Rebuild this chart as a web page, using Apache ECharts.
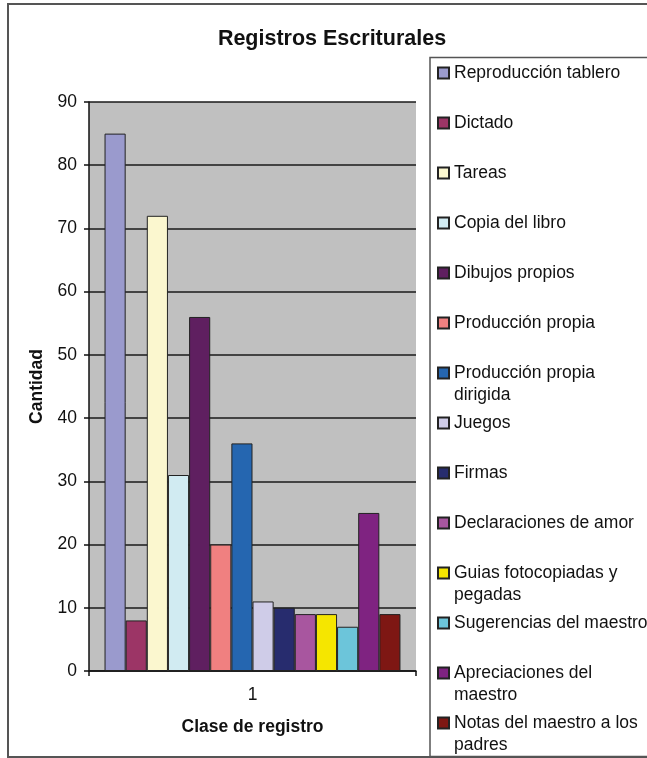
<!DOCTYPE html>
<html>
<head>
<meta charset="utf-8">
<script src="https://cdn.jsdelivr.net/npm/echarts@6/dist/echarts.min.js"></script>
<style>
html,body{margin:0;padding:0;background:#fff;}
#chart{width:647px;height:758px;}
</style>
</head>
<body>
<div id="chart"></div>
<script>
var categories = ['1'];
var seriesNames = [
  'Reproducción tablero', 'Dictado', 'Tareas', 'Copia del libro', 'Dibujos propios',
  'Producción propia', 'Producción propia dirigida', 'Juegos', 'Firmas',
  'Declaraciones de amor', 'Guias fotocopiadas y pegadas', 'Sugerencias del maestro',
  'Apreciaciones del maestro', 'Notas del maestro a los padres'
];
var legendLabels = [
  'Reproducción tablero', 'Dictado', 'Tareas', 'Copia del libro', 'Dibujos propios',
  'Producción propia', 'Producción propia\ndirigida', 'Juegos', 'Firmas',
  'Declaraciones de amor', 'Guias fotocopiadas y\npegadas', 'Sugerencias del maestro',
  'Apreciaciones del\nmaestro', 'Notas del maestro a los\npadres'
];
var seriesValues = [85, 8, 72, 31, 56, 20, 36, 11, 10, 9, 9, 7, 25, 9];
var seriesColors = [
  '#9a9acd', '#9c3566', '#fbf7cf', '#d1ebf2', '#5f1f60', '#f08080', '#2566b0',
  '#cfcce8', '#272c6e', '#a8569f', '#f5e600', '#6cc5da', '#7f2381', '#7e1713'
];
var yTicks = [0, 10, 20, 30, 40, 50, 60, 70, 80, 90];

var FONT = '"Liberation Sans", Arial, sans-serif';
var FS = 17.5;
var chart = echarts.init(document.getElementById('chart'), null, {renderer: 'canvas'});

var series = seriesNames.map(function (n, i) {
  return {
    name: n,
    type: 'bar',
    data: [seriesValues[i]],
    barGap: '0%',
    barCategoryGap: '9.5%',
    itemStyle: {color: seriesColors[i], borderColor: '#222', borderWidth: 1},
    emphasis: {disabled: true}
  };
});

var LH = 22;
var legends = seriesNames.map(function (n, i) {
  var label = legendLabels[i];
  var lines = label.split('\n').length;
  // keep the marker beside the first line: pad with blank lines above
  var padded = label;
  for (var k = 1; k < lines; k++) { padded = ' \n' + padded; }
  var total = 2 * lines - 1;
  var center = 73 + 50 * i;
  return {
    orient: 'vertical',
    left: 437,
    top: center - LH * total / 2,
    padding: 0,
    itemWidth: 11,
    itemHeight: 11,
    icon: 'rect',
    selectedMode: false,
    data: [n],
    formatter: function () { return padded; },
    textStyle: {fontFamily: FONT, fontSize: FS, color: '#111', lineHeight: LH}
  };
});

var option = {
  animation: false,
  backgroundColor: '#fff',
  title: {
    text: 'Registros Escriturales',
    left: 327,
    textAlign: 'center',
    top: 23,
    textStyle: {fontFamily: FONT, fontSize: 21.5, fontWeight: 'bold', color: '#111'}
  },
  legend: legends,
  grid: {left: 89, right: 231, top: 102, bottom: 87, show: true, backgroundColor: '#c0c0c0', borderWidth: 0},
  xAxis: {
    type: 'category',
    data: categories,
    name: 'Clase de registro',
    nameLocation: 'middle',
    nameGap: 47,
    nameTextStyle: {fontFamily: FONT, fontSize: FS, fontWeight: 'bold', color: '#111'},
    axisLine: {lineStyle: {color: '#111', width: 1.5}},
    axisTick: {show: true, length: 5, lineStyle: {color: '#111', width: 1.5}},
    axisLabel: {fontFamily: FONT, fontSize: FS, color: '#111', margin: 15},
    splitLine: {show: false}
  },
  yAxis: {
    type: 'value',
    min: 0,
    max: 90,
    interval: 10,
    name: 'Cantidad',
    nameLocation: 'middle',
    nameGap: 43,
    nameTextStyle: {fontFamily: FONT, fontSize: FS, fontWeight: 'bold', color: '#111'},
    axisLine: {show: true, lineStyle: {color: '#111', width: 1.5}},
    axisTick: {show: true, length: 5, lineStyle: {color: '#111', width: 1.5}},
    axisLabel: {
      fontFamily: FONT, fontSize: FS, color: '#111', margin: 12,
      formatter: function (v) { return yTicks.indexOf(v) >= 0 ? String(v) : ''; }
    },
    splitLine: {show: true, lineStyle: {color: '#1a1a1a', width: 1.5}}
  },
  graphic: [
    {type: 'rect', z: -1, shape: {x: 8, y: 4, width: 660, height: 753},
     style: {fill: 'none', stroke: '#555', lineWidth: 2}},
    {type: 'rect', z: -1, shape: {x: 430, y: 57.5, width: 240, height: 699},
     style: {fill: 'none', stroke: '#555', lineWidth: 1.5}}
  ],
  series: series
};
chart.setOption(option);
</script>
</body>
</html>
